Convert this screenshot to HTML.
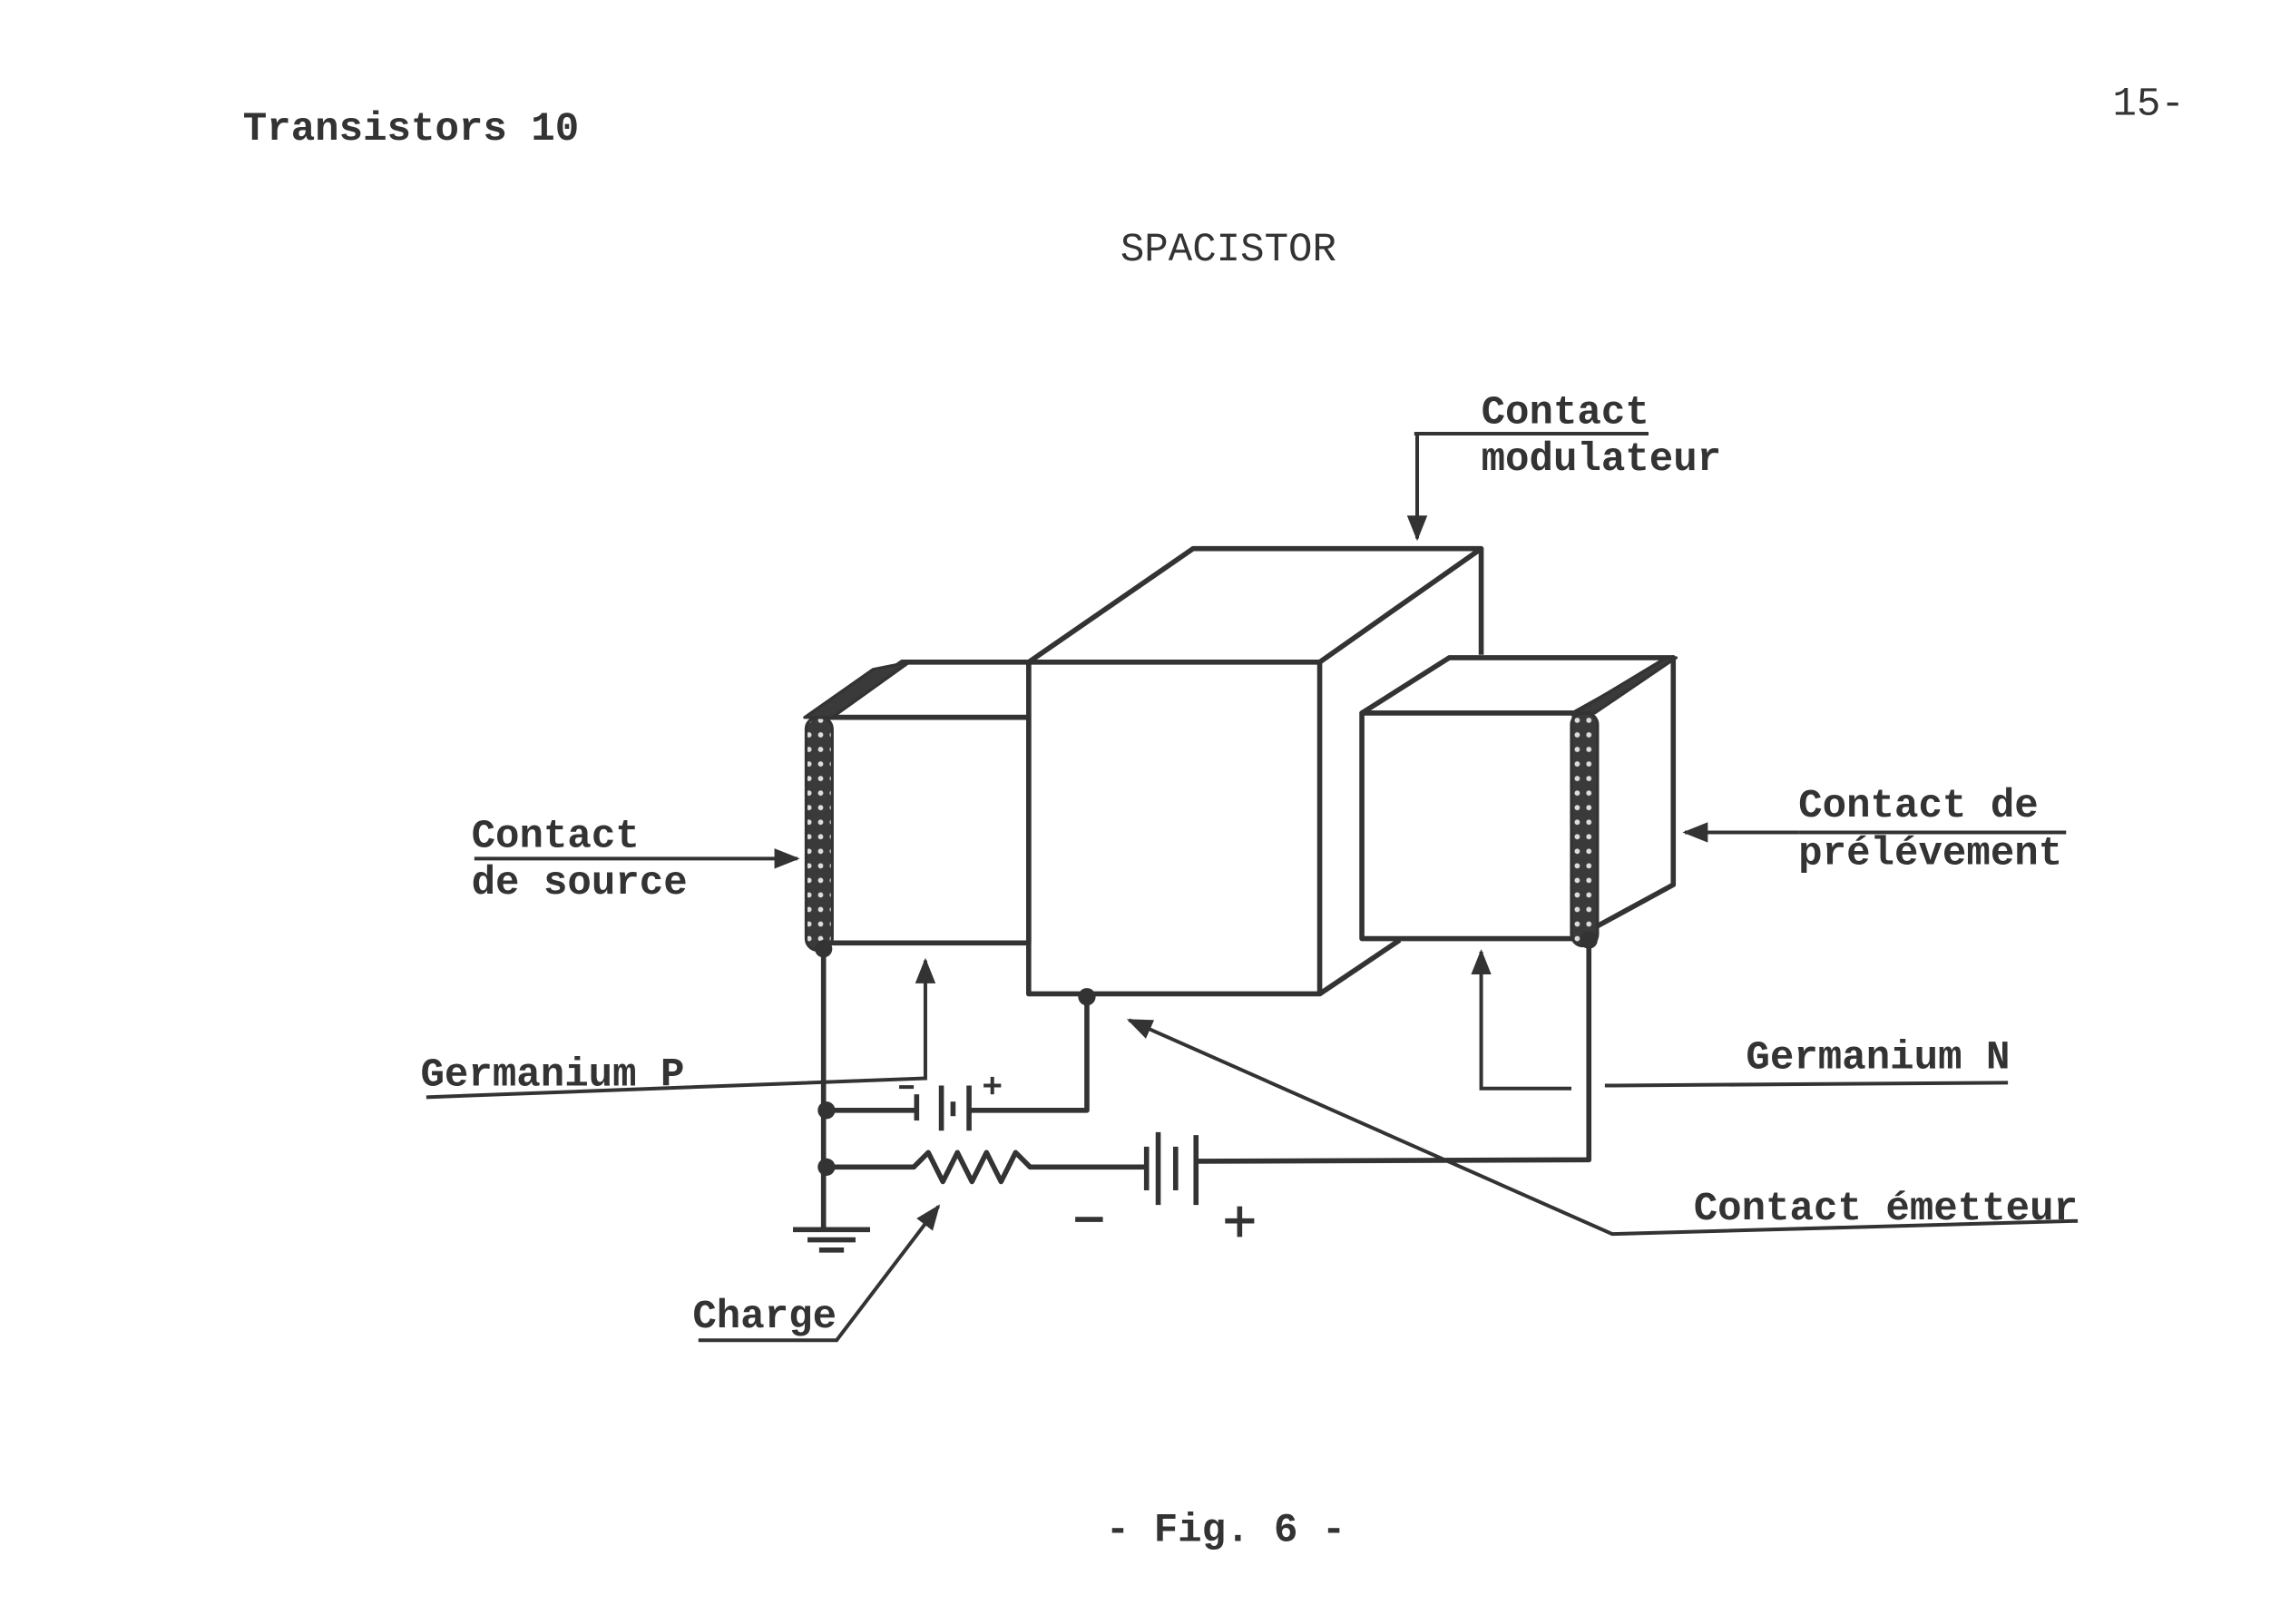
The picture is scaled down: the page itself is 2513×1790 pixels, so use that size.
<!DOCTYPE html>
<html><head><meta charset="utf-8"><style>
html,body{margin:0;padding:0;background:#fff;}
svg{display:block;}
text{font-family:"Liberation Mono",monospace;fill:#333;}
</style></head><body>
<svg width="2513" height="1790" viewBox="0 0 1567 1116" preserveAspectRatio="none" xmlns="http://www.w3.org/2000/svg">
<defs>
<marker id="ah" viewBox="0 0 10 10" refX="9" refY="5" markerWidth="7" markerHeight="7" orient="auto"><path d="M0,1 L10,5 L0,9 z" fill="#333"/></marker>
<pattern id="dots" width="8" height="10" patternUnits="userSpaceOnUse"><rect width="8" height="10" fill="#3a3a3a"/><circle cx="4" cy="5" r="1.8" fill="#ddd"/></pattern>
</defs>
<g font-size="27.5" font-weight="bold">
<text x="167" y="96">Transistors 10</text>
<text x="1452" y="79" font-weight="normal">15-</text>
<text x="770" y="179" font-weight="normal">SPACISTOR</text>
<text x="1018" y="291">Contact</text>
<text x="1018" y="323">modulateur</text>
<text x="324" y="582">Contact</text>
<text x="324" y="614">de source</text>
<text x="1236" y="561">Contact de</text>
<text x="1236" y="594">prélévement</text>
<text x="289" y="746">Germanium P</text>
<text x="1200" y="734">Germanium N</text>
<text x="1164" y="838">Contact émetteur</text>
<text x="476" y="912">Charge</text>
<text x="760" y="1059">- Fig. 6 -</text>
</g>
<g stroke="#333" stroke-width="3.5" fill="none" stroke-linejoin="round">
<polygon points="707,455 820,377 1018,377 907,455" fill="#fff"/>
<polyline points="1018,377 1018,450"/>
<rect x="707" y="455" width="200" height="228" fill="#fff"/>
<line x1="907" y1="683" x2="962" y2="646"/>
<polygon points="566,493 620,455 707,455 707,493" fill="#fff"/>
<rect x="566" y="493" width="141" height="155" fill="#fff"/>
<polygon points="553,493 600,460 625,455 572,493" fill="#3a3a3a" stroke-width="2"/>
<rect x="554" y="493" width="18" height="160" rx="8" fill="url(#dots)" stroke-width="2"/>
<polygon points="936,490 996,452 1150,452 1082,490" fill="#fff"/>
<polygon points="1082,490 1150,452 1150,608 1082,645" fill="#fff"/>
<rect x="936" y="490" width="146" height="155" fill="#fff"/>
<polygon points="1082,490 1145,452 1152,452 1096,490" fill="#3a3a3a" stroke-width="2"/>
<rect x="1080" y="490" width="18" height="160" rx="8" fill="url(#dots)" stroke-width="2"/>
<polyline points="566,655 566,845"/>
<line x1="545" y1="845" x2="598" y2="845"/>
<line x1="555" y1="852" x2="588" y2="852"/>
<line x1="563" y1="859" x2="580" y2="859"/>
<polyline points="568,763 630,763"/>
<line x1="630" y1="752" x2="630" y2="770"/>
<line x1="647" y1="746" x2="647" y2="777"/>
<line x1="655" y1="757" x2="655" y2="767"/>
<line x1="666" y1="746" x2="666" y2="777"/>
<polyline points="666,763 747,763 747,685"/>
<polyline points="568,802 628,802 638,792 648,812 658,792 668,812 678,792 688,812 698,792 708,802 787,802"/>
<line x1="788" y1="788" x2="788" y2="818"/>
<line x1="796" y1="778" x2="796" y2="828"/>
<line x1="808" y1="788" x2="808" y2="818"/>
<line x1="822" y1="780" x2="822" y2="828"/>
<polyline points="822,798 1092,797 1092,645"/>
<line x1="739" y1="838" x2="758" y2="838"/>
<line x1="842" y1="839" x2="862" y2="839"/><line x1="852" y1="829" x2="852" y2="850"/>
<line x1="676" y1="746" x2="688" y2="746" stroke-width="2.5"/><line x1="682" y1="740" x2="682" y2="752" stroke-width="2.5"/>
<line x1="618" y1="747" x2="628" y2="747" stroke-width="2.5"/>
</g>
<g fill="#333">
<circle cx="566" cy="652" r="6"/><circle cx="1092" cy="646" r="6"/><circle cx="747" cy="685" r="6"/>
<circle cx="568" cy="763" r="6"/><circle cx="568" cy="802" r="6"/>
</g>
<g stroke="#333" stroke-width="2.5" fill="none">
<polyline points="972,298 1133,298"/>
<line x1="974" y1="298" x2="974" y2="370" marker-end="url(#ah)"/>
<line x1="326" y1="590" x2="548" y2="590" marker-end="url(#ah)"/>
<line x1="1236" y1="572" x2="1158" y2="572" marker-end="url(#ah)"/>
<line x1="1236" y1="572" x2="1420" y2="572"/>
<polyline points="293,754 636,741 636,660" marker-end="url(#ah)"/>
<polyline points="1080,748 1018,748 1018,654" marker-end="url(#ah)"/>
<line x1="1103" y1="746" x2="1380" y2="744"/>
<polyline points="1428,839 1108,848 776,701" marker-end="url(#ah)"/>
<polyline points="480,921 575,921 645,829" marker-end="url(#ah)"/>
</g>
</svg>
</body></html>
